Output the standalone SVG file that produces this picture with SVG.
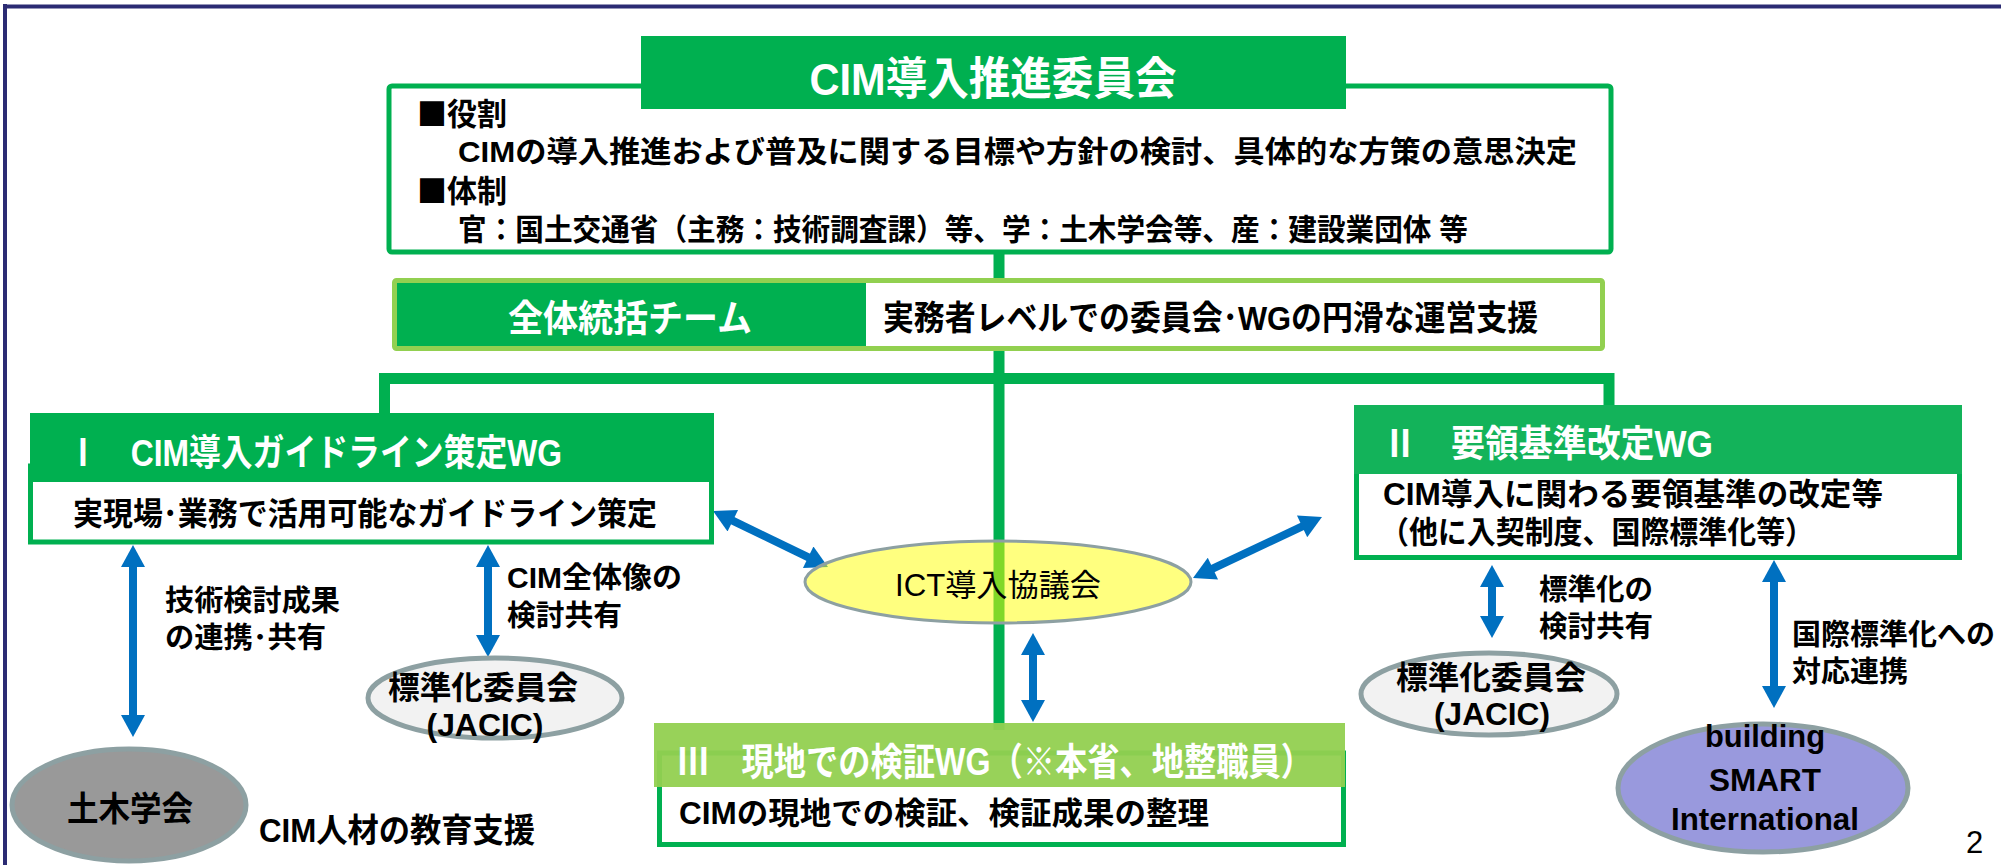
<svg xmlns="http://www.w3.org/2000/svg" width="2001" height="865" viewBox="0 0 2001 865">
<style>
.jp{font-family:"Liberation Sans","Noto Sans CJK JP",sans-serif;font-weight:700;}
.cjk{font-family:"Noto Sans CJK JP",sans-serif;}
.w{fill:#fff;}
.k{fill:#000;}
.n{font-weight:400;}
.conn{stroke:#00B050;stroke-width:11;fill:none;}
.arr{stroke:#0070C0;stroke-width:8;fill:none;marker-start:url(#ah);marker-end:url(#ah);}
.ell{stroke:#8DA0A2;stroke-width:5;}
.gbox{fill:#fff;stroke:#00B050;stroke-width:5;}
</style>
<defs>
<marker id="ah" markerUnits="userSpaceOnUse" markerWidth="24" markerHeight="24" viewBox="0 0 22 24" refX="2" refY="12" orient="auto-start-reverse">
<path d="M0,0 L22,12 L0,24 z" fill="#0070C0"/>
</marker>
</defs>
<rect width="2001" height="865" fill="#fff"/>
<g id="frame">
<line x1="3" y1="6.5" x2="2001" y2="6.5" stroke="#2B2B73" stroke-width="4"/>
<line x1="5" y1="4" x2="5" y2="865" stroke="#2B2B73" stroke-width="4"/>
</g>
<g id="connectors">
<line class="conn" x1="999" y1="250" x2="999" y2="730"/>
<polyline class="conn" points="384.5,414 384.5,378.5 1609,378.5 1609,406"/>
<line class="arr" x1="133" y1="565" x2="133" y2="717"/>
<line class="arr" x1="488" y1="565" x2="488" y2="637"/>
<line class="arr" x1="731" y1="519.8" x2="810" y2="558.2"/>
<line class="arr" x1="1211.1" y1="569.45" x2="1303.9" y2="525.55"/>
<line class="arr" x1="1033" y1="653" x2="1033" y2="702"/>
<line class="arr" x1="1492" y1="585" x2="1492" y2="618"/>
<line class="arr" x1="1774" y1="580" x2="1774" y2="688"/>
</g>
<g id="committee">
<rect class="gbox" x="389" y="86" width="1222" height="166" rx="3"/>
<rect x="641" y="36" width="705" height="73" fill="#00B050"/>
<text class="jp w" x="993" y="95" font-size="45" text-anchor="middle" textLength="367" lengthAdjust="spacingAndGlyphs">CIM導入推進委員会</text>
<text class="jp k" x="417" y="125" font-size="31" textLength="90" lengthAdjust="spacingAndGlyphs"><tspan class="cjk">■</tspan>役割</text>
<text class="jp k" x="458" y="162" font-size="30" textLength="1119" lengthAdjust="spacingAndGlyphs">CIMの導入推進および普及に関する目標や方針の検討、具体的な方策の意思決定</text>
<text class="jp k" x="417" y="202" font-size="31" textLength="90" lengthAdjust="spacingAndGlyphs"><tspan class="cjk">■</tspan>体制</text>
<text class="jp k" x="458" y="240" font-size="30" textLength="1010" lengthAdjust="spacingAndGlyphs">官：国土交通省（主務：技術調査課）等、学：土木学会等、産：建設業団体 等</text>
</g>
<g id="team">
<rect x="394.5" y="280.5" width="1208" height="68" fill="#fff" stroke="#92D050" stroke-width="5" rx="2"/>
<rect x="397" y="283" width="469" height="63" fill="#00B050"/>
<text class="jp w" x="508" y="332" font-size="37" textLength="244" lengthAdjust="spacingAndGlyphs">全体統括チーム</text>
<text class="jp k" x="883" y="330" font-size="34" textLength="655" lengthAdjust="spacingAndGlyphs">実務者レベルでの委員会･WGの円滑な運営支援</text>
</g>
<g id="wg1">
<rect class="gbox" x="30.5" y="466" width="681" height="76"/>
<rect x="30" y="413" width="684" height="69" fill="#00B050"/>
<text class="jp w" x="67" y="466" font-size="37" textLength="495" lengthAdjust="spacingAndGlyphs">Ⅰ　CIM導入ガイドライン策定WG</text>
<text class="jp k" x="73" y="525" font-size="32" textLength="584" lengthAdjust="spacingAndGlyphs">実現場･業務で活用可能なガイドライン策定</text>
</g>
<g id="wg2">
<rect class="gbox" x="1356.5" y="445" width="603" height="112.5"/>
<rect x="1354" y="405" width="608" height="69" fill="#13B35A"/>
<text class="jp w" x="1383" y="457" font-size="37" textLength="330" lengthAdjust="spacingAndGlyphs">Ⅱ　要領基準改定WG</text>
<text class="jp k" x="1383" y="505" font-size="31" textLength="500" lengthAdjust="spacingAndGlyphs">CIM導入に関わる要領基準の改定等</text>
<text class="jp k" x="1380" y="543" font-size="31" textLength="434" lengthAdjust="spacingAndGlyphs">（他に入契制度、国際標準化等）</text>
</g>
<g id="wg3">
<rect class="gbox" x="659.5" y="753" width="684" height="91.5"/>
<rect x="654" y="723" width="691" height="64" fill="#92D050" fill-opacity="0.95"/>
<text class="jp w" x="677" y="775" font-size="38" textLength="636" lengthAdjust="spacingAndGlyphs">Ⅲ　現地での検証WG（※本省、地整職員）</text>
<text class="jp k" x="679" y="824" font-size="31" textLength="530" lengthAdjust="spacingAndGlyphs">CIMの現地での検証、検証成果の整理</text>
</g>
<g id="ict">
<ellipse cx="998" cy="582" rx="193" ry="41" fill="#FFFF00" fill-opacity="0.5" stroke="#8DA0A2" stroke-width="3"/>
<text class="jp k n" x="895" y="596" font-size="31" textLength="206" lengthAdjust="spacingAndGlyphs">ICT導入協議会</text>
</g>
<g id="label-gijutsu">
<text class="jp k" x="165" y="611" font-size="29" textLength="175" lengthAdjust="spacingAndGlyphs">技術検討成果</text>
<text class="jp k" x="165" y="648" font-size="29" textLength="161" lengthAdjust="spacingAndGlyphs">の連携･共有</text>
</g>
<g id="label-zentai">
<text class="jp k" x="507" y="588" font-size="29" textLength="175" lengthAdjust="spacingAndGlyphs">CIM全体像の</text>
<text class="jp k" x="507" y="626" font-size="29" textLength="115" lengthAdjust="spacingAndGlyphs">検討共有</text>
</g>
<g id="label-hyojun">
<text class="jp k" x="1539" y="600" font-size="29" textLength="114" lengthAdjust="spacingAndGlyphs">標準化の</text>
<text class="jp k" x="1539" y="637" font-size="29" textLength="114" lengthAdjust="spacingAndGlyphs">検討共有</text>
</g>
<g id="label-kokusai">
<text class="jp k" x="1792" y="645" font-size="29" textLength="203" lengthAdjust="spacingAndGlyphs">国際標準化への</text>
<text class="jp k" x="1792" y="682" font-size="29" textLength="116" lengthAdjust="spacingAndGlyphs">対応連携</text>
</g>
<g id="jacic-left">
<ellipse class="ell" cx="495" cy="698" rx="127" ry="40" fill="#F2F2F2"/>
<text class="jp k" x="388" y="699" font-size="32" textLength="190" lengthAdjust="spacingAndGlyphs">標準化委員会</text>
<text class="jp k" x="485" y="736" font-size="31" text-anchor="middle" textLength="117" lengthAdjust="spacingAndGlyphs">(JACIC)</text>
</g>
<g id="jacic-right">
<ellipse class="ell" cx="1489" cy="694" rx="128" ry="41" fill="#F2F2F2"/>
<text class="jp k" x="1396" y="689" font-size="32" textLength="190" lengthAdjust="spacingAndGlyphs">標準化委員会</text>
<text class="jp k" x="1492" y="725" font-size="31" text-anchor="middle" textLength="116" lengthAdjust="spacingAndGlyphs">(JACIC)</text>
</g>
<g id="doboku">
<ellipse class="ell" cx="129" cy="805" rx="117" ry="56" fill="#999999"/>
<text class="jp k" x="67" y="821" font-size="34" textLength="126" lengthAdjust="spacingAndGlyphs">土木学会</text>
</g>
<g id="label-kyoiku">
<text class="jp k" x="259" y="842" font-size="33" textLength="276" lengthAdjust="spacingAndGlyphs">CIM人材の教育支援</text>
</g>
<g id="bsi">
<ellipse class="ell" cx="1763" cy="788" rx="145" ry="64" fill="#9999DD"/>
<text class="jp k" x="1765" y="747" font-size="32" text-anchor="middle" textLength="120" lengthAdjust="spacingAndGlyphs">building</text>
<text class="jp k" x="1765" y="791" font-size="32" text-anchor="middle" textLength="112" lengthAdjust="spacingAndGlyphs">SMART</text>
<text class="jp k" x="1765" y="830" font-size="32" text-anchor="middle" textLength="188" lengthAdjust="spacingAndGlyphs">International</text>
</g>
<text x="1966" y="853" font-family="Liberation Sans, sans-serif" font-size="31" fill="#000">2</text>
</svg>
